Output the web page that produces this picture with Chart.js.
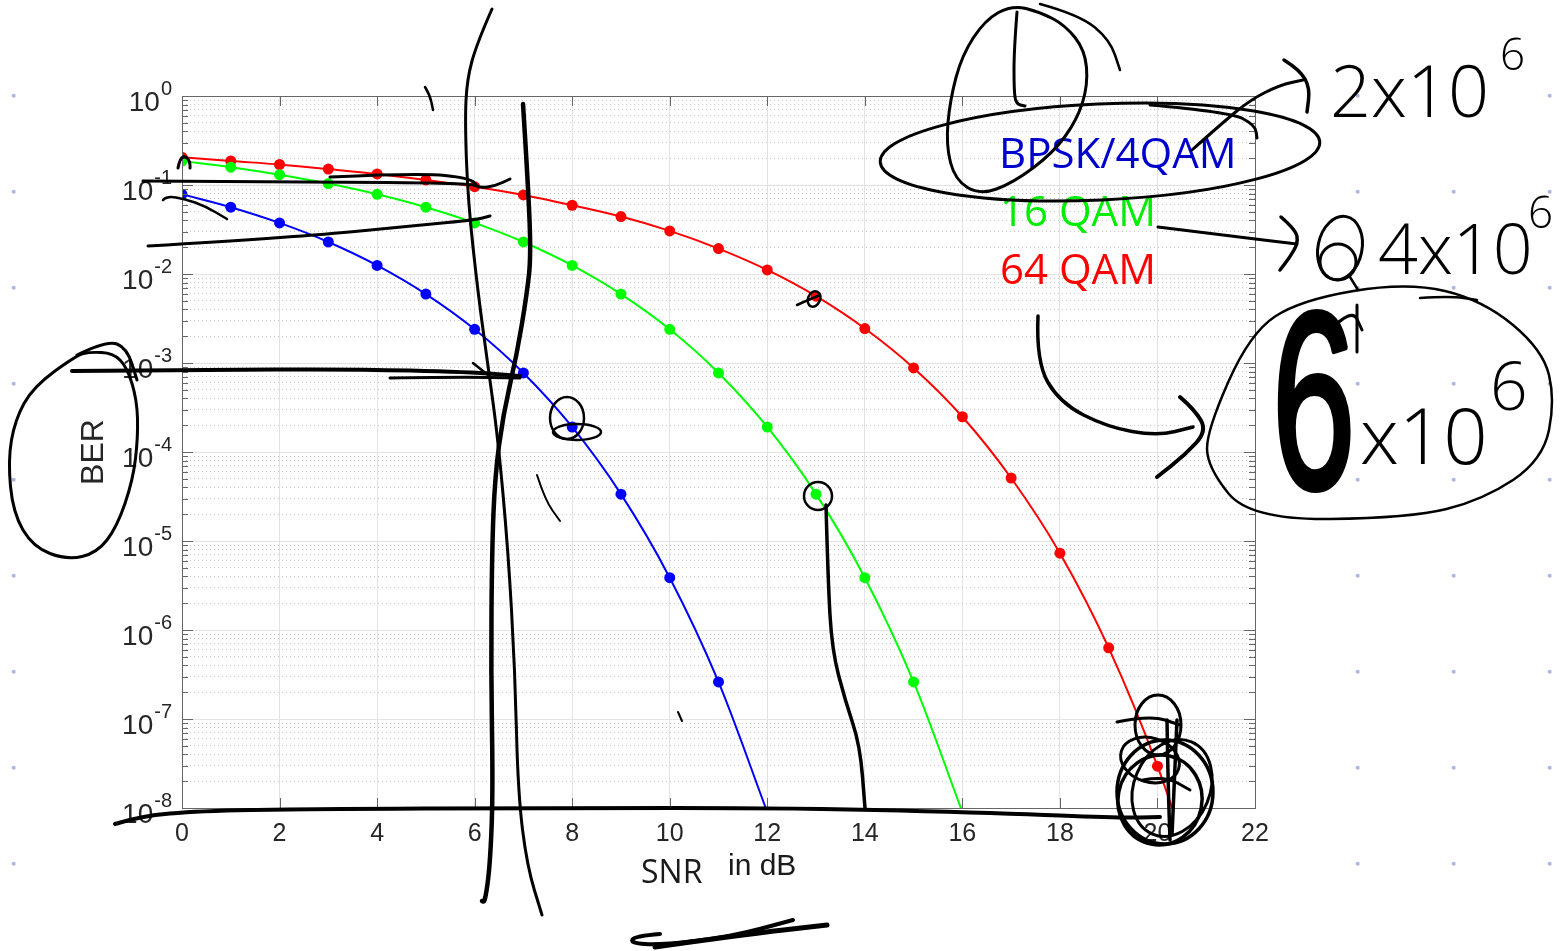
<!DOCTYPE html>
<html>
<head>
<meta charset="utf-8">
<script src="https://cdn.jsdelivr.net/npm/chart.js@4.4.1/dist/chart.umd.min.js"></script>
<style>
  html, body { margin: 0; padding: 0; background: #fff; }
  #wrap { width: 1563px; height: 951px; }
</style>
</head>
<body>
<div id="wrap"><canvas id="berChart" width="1563" height="951"></canvas></div>
<script>
// SNR values (dB) where the curves were evaluated
const snrDb = [0, 1, 2, 3, 4, 5, 6, 7, 8, 9, 10, 11, 12, 13, 14, 15, 16, 17, 18, 19, 20, 21];

// BER
const berBpsk = [0.0786, 0.0563, 0.0375, 0.0229, 0.0125, 0.00595, 0.00239, 7.73e-4, 1.91e-4,
                 3.36e-5, 3.87e-6, 2.61e-7, 9.0e-9];
const ber16Qam = [0.186, 0.1587, 0.1307, 0.1037, 0.0786, 0.0563, 0.0375, 0.0229, 0.0125, 0.00595,
                  0.00239, 7.73e-4, 1.91e-4, 3.36e-5, 3.87e-6, 2.61e-7, 9.0e-9];
const ber64Qam = [0.205, 0.186, 0.170, 0.151, 0.133, 0.114, 0.0958, 0.0774, 0.0592, 0.0442, 0.0305,
                  0.0193, 0.0111, 0.00563, 0.00244, 8.8e-4, 2.49e-4, 5.1e-5, 7.3e-6, 6.3e-7, 2.95e-8, 7e-10];

// axis ticks
const xTicks = [0, 2, 4, 6, 8, 10, 12, 14, 16, 18, 20, 22];
const yDecades = [1e-8, 1e-7, 1e-6, 1e-5, 1e-4, 1e-3, 1e-2, 1e-1, 1];
const yMinorSteps = [2, 3, 4, 5, 6, 7, 8, 9];

const yMin = yDecades[0];
const yMax = yDecades[yDecades.length - 1];
const yMinorTicks = [];
yDecades.slice(0, -1).forEach(d => yMinorSteps.forEach(m => yMinorTicks.push(d * m)));

const toPoints = vals => vals.map((v, i) => ({ x: snrDb[i], y: v }));

const makeSeries = (label, vals, color) => ({
    label: label,
    data: toPoints(vals),
    borderColor: color,
    backgroundColor: color,
    pointBackgroundColor: color,
    pointRadius: ctx => (ctx.raw && ctx.raw.y < yMin ? 0 : 5.5),
    pointBorderWidth: 0,
    borderWidth: 2,
    cubicInterpolationMode: 'monotone'
});

// page background: white sheet with the notebook dot grid around the pasted plot
const paperPlugin = {
    id: 'paper',
    beforeDraw(chart) {
        const ctx = chart.ctx;
        ctx.save();
        ctx.fillStyle = '#ffffff';
        ctx.fillRect(0, 0, chart.width, chart.height);
        ctx.fillStyle = '#a9b8d8';
        for (let x = 13.7; x < chart.width; x += 96) {
            if (x > 40 && x < 1300) continue;
            for (let y = 95.7; y < chart.height; y += 96) {
                ctx.beginPath();
                ctx.arc(x, y, 2, 0, Math.PI * 2);
                ctx.fill();
            }
        }
        ctx.restore();
    }
};

// MATLAB style box with inward tick marks and 10^n tick labels
const framePlugin = {
    id: 'frame',
    afterDatasetsDraw(chart) {
        const { ctx, chartArea: a } = chart;
        const xs = chart.scales.x, ys = chart.scales.y;
        ctx.save();
        ctx.strokeStyle = '#666666';
        ctx.lineWidth = 1;
        ctx.beginPath();
        xTicks.forEach(v => {
            const px = Math.round(xs.getPixelForValue(v)) + 0.5;
            ctx.moveTo(px, a.bottom); ctx.lineTo(px, a.bottom - 10);
            ctx.moveTo(px, a.top); ctx.lineTo(px, a.top + 10);
        });
        yDecades.forEach(v => {
            const py = Math.round(ys.getPixelForValue(v)) + 0.5;
            ctx.moveTo(a.left, py); ctx.lineTo(a.left + 11, py);
            ctx.moveTo(a.right, py); ctx.lineTo(a.right - 11, py);
        });
        yMinorTicks.forEach(v => {
            const py = Math.round(ys.getPixelForValue(v)) + 0.5;
            ctx.moveTo(a.left, py); ctx.lineTo(a.left + 6, py);
            ctx.moveTo(a.right, py); ctx.lineTo(a.right - 6, py);
        });
        ctx.stroke();
        ctx.strokeRect(Math.round(a.left) + 0.5, Math.round(a.top) + 0.5,
                       Math.round(a.right - a.left), Math.round(a.bottom - a.top));

        // y tick labels as 10 with a raised exponent
        ctx.fillStyle = '#262626';
        ctx.textAlign = 'right';
        ctx.textBaseline = 'alphabetic';
        const rightEdge = a.left - 10;
        yDecades.forEach(v => {
            const py = ys.getPixelForValue(v);
            const exp = String(Math.round(Math.log10(v)));
            ctx.font = '20px "Liberation Sans"';
            const ew = ctx.measureText(exp).width;
            ctx.fillText(exp, rightEdge, py - 1);
            ctx.font = '28px "Liberation Sans"';
            ctx.fillText('10', rightEdge - ew - 1, py + 14.5);
        });
        ctx.restore();
    }
};

// smooth freehand stroke through the given points
function inkStroke(ctx, pts, width, closed) {
    ctx.lineWidth = width;
    ctx.beginPath();
    if (closed) {
        const n = pts.length;
        const mid = (p, q) => [(p[0] + q[0]) / 2, (p[1] + q[1]) / 2];
        let m = mid(pts[n - 1], pts[0]);
        ctx.moveTo(m[0], m[1]);
        for (let i = 0; i < n; i++) {
            const q = mid(pts[i], pts[(i + 1) % n]);
            ctx.quadraticCurveTo(pts[i][0], pts[i][1], q[0], q[1]);
        }
    } else {
        ctx.moveTo(pts[0][0], pts[0][1]);
        for (let i = 1; i < pts.length - 1; i++) {
            const mx = (pts[i][0] + pts[i + 1][0]) / 2;
            const my = (pts[i][1] + pts[i + 1][1]) / 2;
            ctx.quadraticCurveTo(pts[i][0], pts[i][1], mx, my);
        }
        const last = pts[pts.length - 1];
        ctx.lineTo(last[0], last[1]);
    }
    ctx.stroke();
}

function inkEllipse(ctx, cx, cy, rx, ry, rot, width) {
    ctx.lineWidth = width;
    ctx.beginPath();
    ctx.ellipse(cx, cy, rx, ry, rot, 0, Math.PI * 2);
    ctx.stroke();
}

const inkLines = [
    // two long vertical pen strokes
    { w: 3, p: [[492,9],[477,43],[467,79],[465,122],[468,201],[478,293],[488,366],[498,439],[508,549],[515,671],[518,793],[527,866],[542,915]] },
    { w: 4.5, p: [[523,104],[528,183],[531,256],[527,293],[517,354],[503,415],[495,476],[492,549],[491,671],[493,793],[490,866],[485,902],[482,901]] },
    // horizontal pen strokes
    { w: 3, p: [[143,181],[300,182],[470,183],[480,188],[495,186],[510,179]] },
    { w: 3, p: [[330,177],[420,173],[470,178],[478,187]] },
    { w: 3, p: [[148,246],[300,237],[420,225],[475,220],[490,216]] },
    { w: 2.5, p: [[163,200],[167,196],[185,199],[205,206],[227,219]] },
    { w: 4, p: [[72,371],[200,370],[350,369],[470,372],[520,376]] },
    { w: 3, p: [[390,378],[460,377],[520,378]] },
    { w: 2.5, p: [[473,363],[488,375]] },
    { w: 4, p: [[115,824],[140,816],[200,811],[300,809],[550,808],[800,808],[1000,813],[1120,818],[1160,817]] },
    { w: 4, p: [[660,934],[635,936],[630,943],[660,945],[730,937],[793,920]] },
    { w: 5, p: [[655,947],[740,935],[827,925]] },
    // small marks
    { w: 2.5, p: [[425,87],[430,95],[433,110]] },
    { w: 2, p: [[537,475],[545,500],[560,521]] },
    { w: 2, p: [[678,712],[682,721]] },
    { w: 2.5, p: [[797,305],[808,300],[820,295]] },
    { w: 3, p: [[178,168],[180,158],[186,156],[190,162],[190,168]] },
    // BER loop extra pass
    { w: 3, p: [[77,355],[107,340],[127,348],[137,380]] },
    // scribble over the legend
    { w: 3, p: [[1017,12],[1014,50],[1014,90],[1016,104],[1025,106]] },
    { w: 2.5, p: [[1040,4],[1080,15],[1110,40],[1120,70]] },
    { w: 3, p: [[1150,105],[1230,112],[1255,125],[1257,138]] },
    // arrows to the handwritten numbers
    { w: 3, p: [[1192,150],[1220,125],[1250,100],[1280,85],[1303,80]] },
    { w: 3.5, p: [[1284,60],[1300,70],[1310,88],[1307,112]] },
    { w: 3, p: [[1158,227],[1230,236],[1297,244]] },
    { w: 3.5, p: [[1281,217],[1296,230],[1298,243],[1290,257],[1280,270]] },
    { w: 3.5, p: [[1038,316],[1036,362],[1060,403],[1107,427],[1157,436],[1193,427]] },
    { w: 4, p: [[1180,397],[1195,410],[1207,431],[1185,455],[1157,477]] },
    { w: 2.5, p: [[1420,298],[1450,296],[1477,300]] },
    { w: 2.5, p: [[1350,277],[1358,290]] },
    { w: 3, p: [[1330,330],[1352,308],[1362,330]] },
    { w: 3, p: [[1357,305],[1357,352]] },
    // line down from the 16 QAM mark
    { w: 3.5, p: [[826,505],[828,580],[832,650],[845,700],[860,745],[865,808]] },
    // bottom right scribble strokes
    { w: 3.5, p: [[1167,720],[1168,780],[1170,840]] },
    { w: 3.5, p: [[1177,720],[1174,790],[1172,835]] },
    { w: 3, p: [[1117,722],[1150,715],[1180,725]] },
    { w: 3, p: [[1143,780],[1165,776],[1190,790]] }
];

const inkLoops = [
    { w: 3, p: [[77,355],[90,352],[113,353],[127,367],[137,400],[138,437],[133,480],[117,527],[97,553],[67,560],[33,547],[13,513],[8,460],[15,420],[33,387]] },
    { w: 3, p: [[1012,5],[985,20],[962,55],[950,100],[946,145],[955,180],[980,195],[1013,183],[1053,153],[1077,120],[1088,85],[1085,50],[1065,25],[1040,12]] },
    { w: 2.5, p: [[1207,430],[1250,333],[1300,300],[1407,282],[1483,300],[1543,350],[1555,400],[1543,460],[1483,500],[1410,518],[1250,520],[1207,467]] }
];

const inkOvals = [
    [1100, 152, 220, 48, -0.045, 3],
    [567, 418, 17, 21, 0, 2.5],
    [577, 432, 24, 8, 0, 2.5],
    [818, 496, 14, 14, 0, 2.5],
    [814, 299, 6, 8, 0.4, 2.5],
    [1165, 792, 48, 52, 0, 3.5],
    [1160, 800, 42, 45, 0.2, 3.5],
    [1158, 725, 23, 30, 0, 3],
    [1172, 788, 38, 50, 0.4, 3],
    [1150, 760, 30, 22, 0.3, 3],
    [1340, 248, 22, 32, 0.2, 3],
    [1338, 262, 18, 18, 0, 3]
];

// legend text, axis label and the handwritten notes
const notesPlugin = {
    id: 'notes',
    afterDraw(chart) {
        const ctx = chart.ctx;
        ctx.save();
        ctx.textBaseline = 'alphabetic';
        ctx.textAlign = 'left';

        ctx.font = '42px "Open Sans"';
        ctx.fillStyle = '#0000cc';
        ctx.fillText('BPSK/4QAM', 999, 168);
        ctx.fillStyle = '#00ee00';
        ctx.fillText('16 QAM', 1000, 226);
        ctx.fillStyle = '#ff0000';
        ctx.fillText('64 QAM', 1000, 284);

        ctx.fillStyle = '#1a1a1a';
        ctx.font = '32px "Open Sans"';
        ctx.fillText('SNR', 641, 883);
        ctx.font = '30px "Liberation Sans"';
        ctx.fillText('in dB', 728, 875);

        ctx.strokeStyle = '#000000';
        ctx.lineCap = 'round';
        ctx.lineJoin = 'round';
        inkLines.forEach(s => inkStroke(ctx, s.p, s.w, false));
        inkLoops.forEach(s => inkStroke(ctx, s.p, s.w, true));
        inkOvals.forEach(o => inkEllipse(ctx, o[0], o[1], o[2], o[3], o[4], o[5]));

        ctx.fillStyle = '#000000';
        ctx.font = '300 72px "Open Sans"';
        ctx.fillText('2x10', 1330, 117);
        ctx.font = '300 44px "Open Sans"';
        ctx.fillText('6', 1500, 70);
        ctx.font = '300 70px "Open Sans"';
        ctx.fillText('4x10', 1378, 274);
        ctx.font = '300 44px "Open Sans"';
        ctx.fillText('6', 1528, 228);

        ctx.save();
        ctx.translate(1272, 488);
        ctx.scale(0.6, 1);
        ctx.font = '250px "Liberation Sans"';
        ctx.fillText('6', 0, 0);
        ctx.lineWidth = 6;
        ctx.strokeText('6', 0, 0);
        ctx.restore();
        ctx.font = '300 78px "Open Sans"';
        ctx.fillText('x10', 1360, 464);
        ctx.font = '300 66px "Open Sans"';
        ctx.fillText('6', 1490, 410);
        ctx.restore();
    }
};

new Chart(document.getElementById('berChart'), {
    type: 'line',
    data: {
        datasets: [
            makeSeries('BPSK/4QAM', berBpsk, '#0000ff'),
            makeSeries('16 QAM', ber16Qam, '#00ff00'),
            makeSeries('64 QAM', ber64Qam, '#ff0000')
        ]
    },
    options: {
        responsive: false,
        animation: false,
        layout: { padding: { left: 0, top: 96, right: 308, bottom: 0 } },
        plugins: {
            legend: { display: false },
            tooltip: { enabled: false }
        },
        scales: {
            x: {
                type: 'linear',
                position: 'bottom',
                min: 0,
                max: 22,
                afterBuildTicks: s => { s.ticks = xTicks.map(v => ({ value: v })); },
                afterFit: s => { s.height = 143; },
                grid: { color: '#e3e3e3', drawTicks: false },
                border: { display: false },
                ticks: {
                    padding: 11,
                    autoSkip: false,
                    maxRotation: 0,
                    color: '#262626',
                    font: { family: 'Liberation Sans', size: 25 }
                }
            },
            y: {
                type: 'logarithmic',
                position: 'left',
                min: yMin,
                max: yMax,
                afterBuildTicks: s => { s.ticks = yDecades.map(v => ({ value: v })); },
                afterFit: s => { s.width = 182; },
                grid: { color: '#e3e3e3', drawTicks: false },
                border: { display: false },
                ticks: { display: false },
                title: {
                    display: true,
                    text: 'BER',
                    color: '#262626',
                    font: { family: 'Liberation Sans', size: 32 },
                    padding: { top: 75, bottom: 0 }
                }
            },
            yMinor: {
                type: 'logarithmic',
                position: 'left',
                min: yMin,
                max: yMax,
                afterBuildTicks: s => { s.ticks = yMinorTicks.map(v => ({ value: v })); },
                afterFit: s => { s.width = 0; },
                grid: { color: '#c8c8c8', drawTicks: false },
                border: { display: false, dash: [1, 3] },
                ticks: { display: false }
            }
        }
    },
    plugins: [paperPlugin, framePlugin, notesPlugin]
});
</script>
</body>
</html>
